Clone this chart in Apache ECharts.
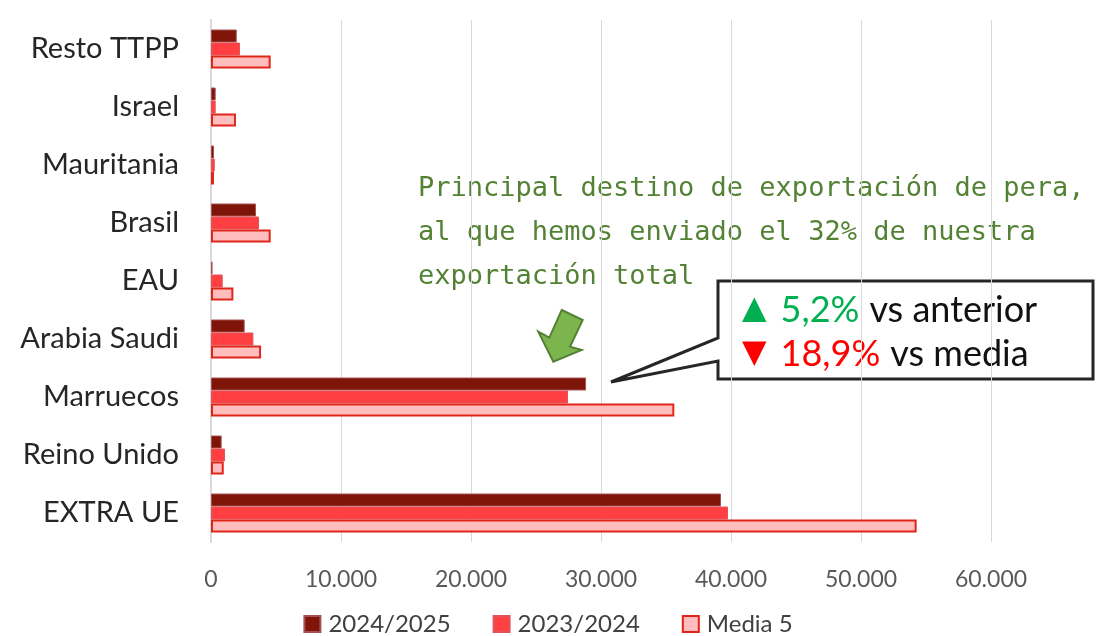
<!DOCTYPE html>
<html>
<head>
<meta charset="utf-8">
<script src="https://cdn.jsdelivr.net/npm/echarts@6/dist/echarts.min.js"></script>
<style>
  html, body { margin: 0; padding: 0; background: #fff; }
  #chart { width: 1096px; height: 636px; }
</style>
</head>
<body>
<div id="chart"></div>
<script>
// destinos, de abajo a arriba
var destinos = ['EXTRA UE', 'Reino Unido', 'Marruecos', 'Arabia Saudi', 'EAU', 'Brasil', 'Mauritania', 'Israel', 'Resto TTPP'];
var campana2425 = [39230, 820, 28850, 2590, 120, 3460, 230, 360, 1980];
var campana2324 = [39770, 1080, 27460, 3260, 900, 3690, 290, 360, 2230];
var media5 = [54280, 980, 35640, 3850, 1720, 4590, 230, 1920, 4590];
var xTicks = [0, 10000, 20000, 30000, 40000, 50000, 60000];

var chart = echarts.init(document.getElementById('chart'));

function miles(v) {
  return String(v).replace(/\B(?=(\d{3})+(?!\d))/g, '.');
}

var FONT = 'Lato';

chart.setOption({
  animation: false,
  textStyle: { fontFamily: FONT },
  grid: { left: 211, right: 105, top: 20, bottom: 94 },
  legend: {
    bottom: 0,
    padding: 0,
    left: 'center',
    icon: 'rect',
    itemWidth: 16,
    itemHeight: 16,
    itemGap: 42,
    data: ['2024/2025', '2023/2024', 'Media 5'],
    textStyle: { fontSize: 24, color: '#404040', fontFamily: FONT, padding: [0, 0, 0, 3] }
  },
  xAxis: {
    type: 'value',
    min: xTicks[0],
    max: xTicks[xTicks.length - 1],
    interval: 10000,
    axisLine: { show: false },
    axisTick: { show: false },
    splitLine: { lineStyle: { color: '#D9D9D9', width: 1 } },
    axisLabel: {
      fontSize: 23, color: '#595959', margin: 26,
      formatter: function (v) { return miles(v); }
    }
  },
  yAxis: {
    type: 'category',
    data: destinos,
    axisLine: { lineStyle: { color: '#D9D9D9', width: 2 } },
    axisTick: { show: false },
    axisLabel: { fontSize: 29, color: '#262626', margin: 32 }
  },
  series: [
    {
      name: '2024/2025', type: 'bar', data: campana2425,
      barWidth: 13, barGap: '0%',
      itemStyle: { color: '#7F1409', borderColor: '#A65050', borderWidth: 1 }
    },
    {
      name: '2023/2024', type: 'bar', data: campana2324,
      barWidth: 13, barGap: '0%',
      itemStyle: { color: '#FF3F41', borderColor: '#E3545A', borderWidth: 1 }
    },
    {
      name: 'Media 5', type: 'bar', data: media5,
      barWidth: 13, barGap: '0%',
      itemStyle: { color: '#FFBDBD', borderColor: '#E0261A', borderWidth: 2 }
    }
  ],
  graphic: [
    {
      type: 'text', left: 418, top: 167,
      style: {
        text: 'Principal destino de exportación de pera,\nal que hemos enviado el 32% de nuestra\nexportación total',
        fill: '#548235',
        font: '27px "DejaVu Sans Mono", monospace',
        lineHeight: 44
      }
    },
    {
      type: 'polygon',
      shape: { points: [[561.7, 310], [582.7, 320], [570, 346.7], [581.7, 350], [553.3, 361.7], [538.3, 331.7], [549.3, 337.7]] },
      style: { fill: '#7CB54E', stroke: '#548235', lineWidth: 2 }
    },
    {
      type: 'polygon',
      shape: { points: [[718, 281], [1093, 281], [1093, 379], [718, 379], [718, 361], [611, 382], [718, 338]] },
      style: { fill: '#fff', stroke: '#262626', lineWidth: 3 }
    },
    {
      type: 'text', left: 742, top: 288,
      style: {
        text: '{g|▲}{gv|5,2%}{k|vs anterior}\n{r|▼}{rv|18,9%}{k|vs media}',
        lineHeight: 44,
        rich: {
          g: { fill: '#00B050', fontSize: 32, fontFamily: 'DejaVu Sans', lineHeight: 44, padding: [0, 14, 0, 0] },
          gv: { fill: '#00B050', fontSize: 36, fontFamily: FONT, lineHeight: 44, padding: [0, 10, 0, 0] },
          r: { fill: '#FF0000', fontSize: 32, fontFamily: 'DejaVu Sans', lineHeight: 44, padding: [0, 14, 0, 0] },
          rv: { fill: '#FF0000', fontSize: 36, fontFamily: FONT, lineHeight: 44, padding: [0, 10, 0, 0] },
          k: { fill: '#111', fontSize: 36, fontFamily: FONT, lineHeight: 44 }
        }
      }
    }
  ]
});
</script>
</body>
</html>
